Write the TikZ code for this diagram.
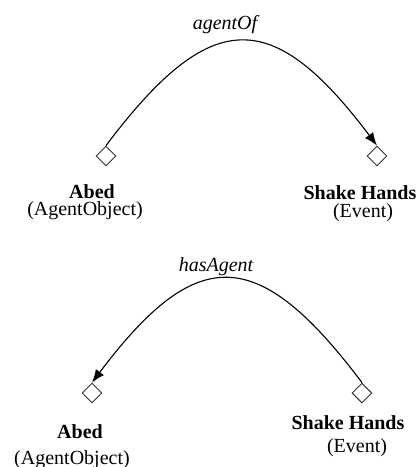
\documentclass[tikz,border=0pt]{standalone}
\usepackage{fontspec}
\setmainfont{Liberation Serif}
\usetikzlibrary{shapes.geometric,arrows.meta}

\begin{document}
\begin{tikzpicture}[
        port/.style={
            draw=black!80,
            shape=diamond,
            aspect=1,
            inner sep=0pt,
            minimum size=0.35cm,
            line width=0.5pt
        },
        thing/.style={
            font=\bfseries,
            inner sep=0pt
        },
        kind/.style={
            inner sep=0pt
        },
        rel/.style={
            font=\itshape,
            inner sep=0pt
        },
        link/.style={
            line width=0.55pt,
            -{Latex[length=6.5pt,width=5pt]}
        }
    ]
        \useasboundingbox (0,0) rectangle (7.363,8.207);

        % agentOf
        \node[port] (abedA) at (1.863,5.465) {};
        \node[port] (shakeA) at (6.625,5.465) {};
        \node[thing] (abedAname) at (1.617,4.833) {Abed};
        \node[kind] (abedAkind) at (1.494,4.499) {(AgentObject)};
        \node[thing] (shakeAname) at (6.326,4.815) {Shake Hands};
        \node[kind] (shakeAkind) at (6.379,4.464) {(Event)};
        \node[rel] (agentOf) at (3.954,7.767) {agentOf};
        \draw[link] (abedA.north) to[out=53,in=127,looseness=1.65] (shakeA.north);

        % hasAgent
        \node[port] (abedB) at (1.617,1.300) {};
        \node[port] (shakeB) at (6.361,1.300) {};
        \node[thing] (abedBname) at (1.406,0.615) {Abed};
        \node[kind] (abedBkind) at (1.265,0.123) {(AgentObject)};
        \node[thing] (shakeBname) at (6.115,0.773) {Shake Hands};
        \node[kind] (shakeBkind) at (6.274,0.334) {(Event)};
        \node[rel] (hasAgent) at (3.796,3.515) {hasAgent};
        \draw[link] (shakeB.north) to[out=127,in=53,looseness=1.65] (abedB.north);
    \end{tikzpicture}
\end{document}
